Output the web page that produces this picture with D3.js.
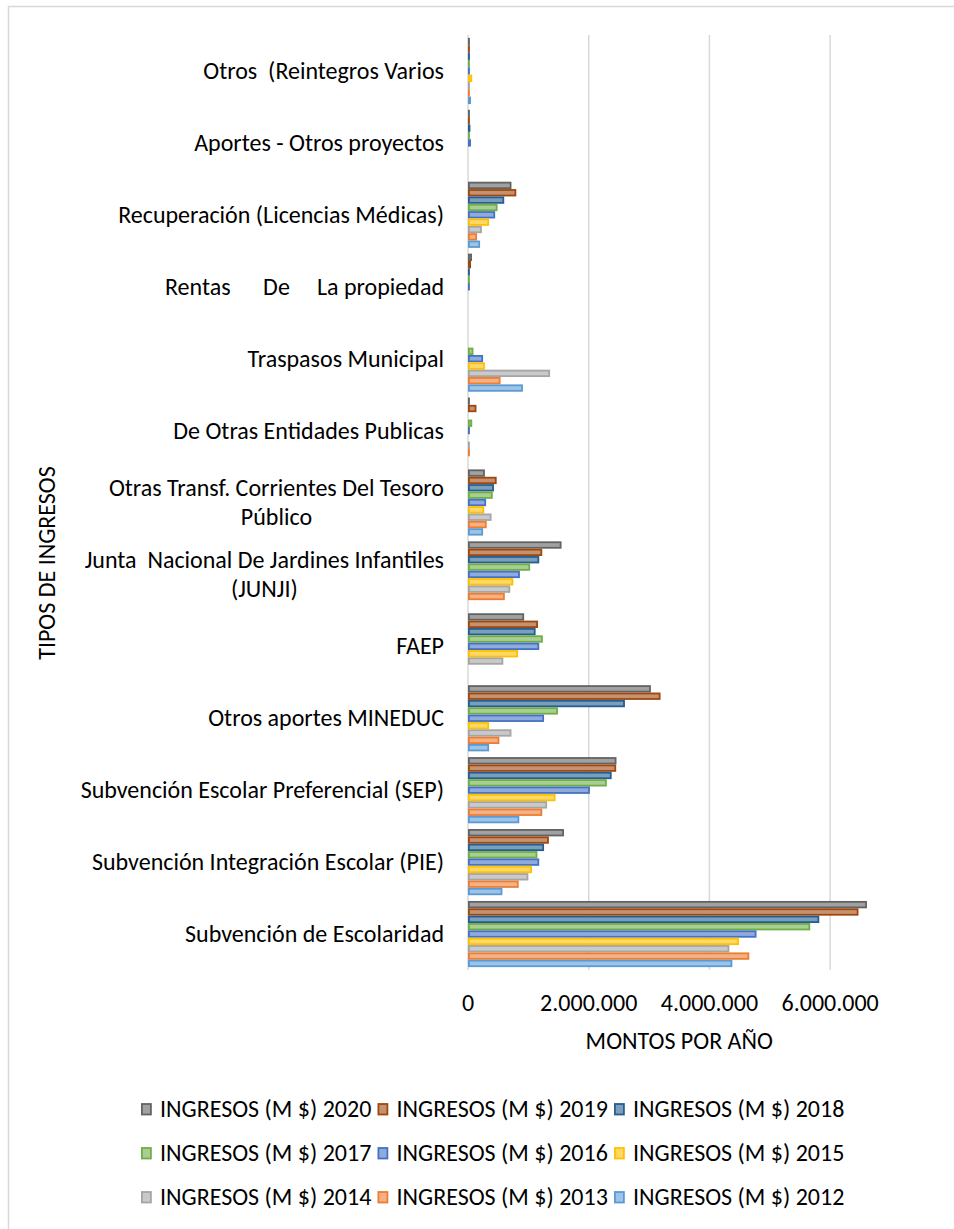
<!DOCTYPE html>
<html>
<head>
<meta charset="utf-8">
<script src="https://cdn.jsdelivr.net/npm/d3@7/dist/d3.min.js"></script>
<style>
	body { margin: 0; background: #fff; }
	text { font-family: Calibri, Carlito, "Noto Sans", sans-serif; fill: #000; white-space: pre; }
</style>
</head>
<body>
<svg id="chart"></svg>
<script>
// categorias de arriba hacia abajo, '\n' = salto de linea
const categories = [
	'Otros  (Reintegros Varios',
	'Aportes - Otros proyectos',
	'Recuperación (Licencias Médicas)',
	'Rentas      De     La propiedad',
	'Traspasos Municipal',
	'De Otras Entidades Publicas',
	'Otras Transf. Corrientes Del Tesoro\nPúblico',
	'Junta  Nacional De Jardines Infantiles\n(JUNJI)',
	'FAEP',
	'Otros aportes MINEDUC',
	'Subvención Escolar Preferencial (SEP)',
	'Subvención Integración Escolar (PIE)',
	'Subvención de Escolaridad'
];

const years = [2020, 2019, 2018, 2017, 2016, 2015, 2014, 2013, 2012];

// montos en millones de pesos, mismo orden que categories
const ingresos2020 = [0.006, 0.03, 0.72, 0.066, 0, 0.005, 0.28, 1.55, 0.93, 3.03, 2.46, 1.59, 6.61];
const ingresos2019 = [0.006, 0.02, 0.80, 0.05, 0, 0.14, 0.475, 1.23, 1.16, 3.19, 2.455, 1.34, 6.47];
const ingresos2018 = [0.005, 0.04, 0.60, 0.02, 0, 0, 0.43, 1.18, 1.12, 2.60, 2.38, 1.26, 5.82];
const ingresos2017 = [0.004, 0.005, 0.49, 0.02, 0.09, 0.07, 0.41, 1.03, 1.24, 1.49, 2.30, 1.15, 5.67];
const ingresos2016 = [0.005, 0.05, 0.45, 0.005, 0.25, 0.005, 0.30, 0.86, 1.18, 1.26, 2.02, 1.18, 4.78];
const ingresos2015 = [0.07, 0, 0.35, 0, 0.28, 0, 0.27, 0.75, 0.83, 0.35, 1.45, 1.06, 4.49];
const ingresos2014 = [0.005, 0, 0.23, 0, 1.36, 0.005, 0.39, 0.70, 0.585, 0.72, 1.31, 1.00, 4.33];
const ingresos2013 = [0.03, 0, 0.15, 0, 0.54, 0.03, 0.31, 0.61, 0, 0.52, 1.23, 0.84, 4.66];
const ingresos2012 = [0.05, 0, 0.20, 0, 0.91, 0, 0.25, 0, 0, 0.35, 0.85, 0.57, 4.38];

const xTicks = [0, 2000000, 4000000, 6000000];

const seriesColors = ['#636363', '#9e480e', '#255e91', '#70ad47', '#4472c4', '#ffc000', '#a5a5a5', '#ed7d31', '#5b9bd5'];

const DIMENSION = {
	width: 954,
	height: 1229,
	margin: {
		left: 468,
		right: 954 - 890.5,
		top: 35,
		bottom: 1229 - 970
	}
};

DIMENSION.trueWidth = DIMENSION.width - (DIMENSION.margin.left + DIMENSION.margin.right);
DIMENSION.trueHeight = DIMENSION.height - (DIMENSION.margin.top + DIMENSION.margin.bottom);

const CONTAINER = '#chart';
const FONT = '24px';

const series = years.map((year, i) => ({
	year: year,
	color: seriesColors[i],
	values: [ingresos2020, ingresos2019, ingresos2018, ingresos2017, ingresos2016,
		ingresos2015, ingresos2014, ingresos2013, ingresos2012][i]
}));

const svg = d3.select(CONTAINER)
	.attr('width', DIMENSION.width)
	.attr('height', DIMENSION.height);

// marco del grafico
svg.append('rect')
	.attr('x', 8.5)
	.attr('y', 6.5)
	.attr('width', 980)
	.attr('height', 1260)
	.attr('fill', 'none')
	.attr('stroke', '#d9d9d9')
	.attr('stroke-width', 1.5);

const fmt = d3.formatLocale({ decimal: ',', thousands: '.', grouping: [3], currency: ['$', ''] }).format(',.0f');

const xScale = d3.scaleLinear()
	.domain([0, 7000000])
	.range([0, DIMENSION.trueWidth]);

const yScale = d3.scaleBand()
	.domain(categories)
	.range([0, DIMENSION.trueHeight])
	.paddingInner(0.08)
	.paddingOuter(0.04);

const yearScale = d3.scaleBand()
	.domain(years)
	.range([0, yScale.bandwidth()]);

const plot = svg.append('g')
	.attr('transform', `translate(${DIMENSION.margin.left},${DIMENSION.margin.top})`);

// lineas de cuadricula
plot.append('g')
	.selectAll('line')
	.data(xTicks)
	.enter()
	.append('line')
	.attr('x1', d => xScale(d))
	.attr('x2', d => xScale(d))
	.attr('y1', 0)
	.attr('y2', DIMENSION.trueHeight)
	.attr('stroke', '#d9d9d9')
	.attr('stroke-width', 1.5);

// barras
const groups = plot.append('g')
	.selectAll('g')
	.data(series)
	.enter()
	.append('g');

groups.selectAll('rect')
	.data(s => s.values.map((v, j) => ({ year: s.year, color: s.color, cat: categories[j], value: v * 1000000 })).filter(d => d.value > 0))
	.enter()
	.append('rect')
	.attr('x', xScale(0) + 0.9)
	.attr('y', d => yScale(d.cat) + yearScale(d.year) + 0.9)
	.attr('width', d => Math.max(0.1, xScale(d.value) - 1.8))
	.attr('height', yearScale.bandwidth() - 1.8)
	.attr('fill', d => d3.interpolateRgb(d.color, '#ffffff')(0.4))
	.attr('stroke', d => d.color)
	.attr('stroke-width', 1.8);

// eje x
plot.append('g')
	.selectAll('text')
	.data(xTicks)
	.enter()
	.append('text')
	.attr('x', d => xScale(d))
	.attr('y', DIMENSION.trueHeight + 41)
	.attr('text-anchor', 'middle')
	.style('font-size', FONT)
	.text(d => fmt(d));

// etiquetas de categoria
const labels = plot.append('g')
	.selectAll('text')
	.data(categories)
	.enter()
	.append('text')
	.style('font-size', FONT);

labels.each(function(d) {
	const lines = d.split('\n');
	const t = d3.select(this);
	const cy = yScale(d) + yScale.bandwidth() / 2;
	if (lines.length === 1) {
		t.attr('x', -24)
			.attr('y', cy + 8)
			.attr('text-anchor', 'end')
			.text(d);
	} else {
		t.attr('text-anchor', 'middle');
		lines.forEach((line, k) => {
			t.append('tspan')
				.attr('x', 0)
				.attr('y', cy + 8 + (k - 0.5) * 29.5)
				.text(line);
		});
		// centra las lineas y alinea el bloque a la derecha
		const w = this.getBBox().width;
		t.selectAll('tspan').attr('x', -24 - w / 2);
	}
});

svg.append('text')
	.attr('x', DIMENSION.margin.left + DIMENSION.trueWidth / 2)
	.attr('y', 1049)
	.attr('text-anchor', 'middle')
	.style('font-size', FONT)
	.text('MONTOS POR AÑO');

svg.append('text')
	.attr('transform', 'translate(55,563) rotate(-90)')
	.attr('text-anchor', 'middle')
	.style('font-size', FONT)
	.text('TIPOS DE INGRESOS');

// leyenda
const legend = svg.append('g')
	.selectAll('g')
	.data(series)
	.enter()
	.append('g')
	.attr('transform', (d, i) => `translate(${141 + (i % 3) * 236.5},${1109 + Math.floor(i / 3) * 44})`);

legend.append('rect')
	.attr('x', 0.9)
	.attr('y', -5)
	.attr('width', 9)
	.attr('height', 10.5)
	.attr('fill', d => d3.interpolateRgb(d.color, '#ffffff')(0.4))
	.attr('stroke', d => d.color)
	.attr('stroke-width', 1.8);

legend.append('text')
	.attr('x', 19)
	.attr('y', 8)
	.style('font-size', FONT)
	.text(d => `INGRESOS (M $) ${d.year}`);
</script>
</body>
</html>
